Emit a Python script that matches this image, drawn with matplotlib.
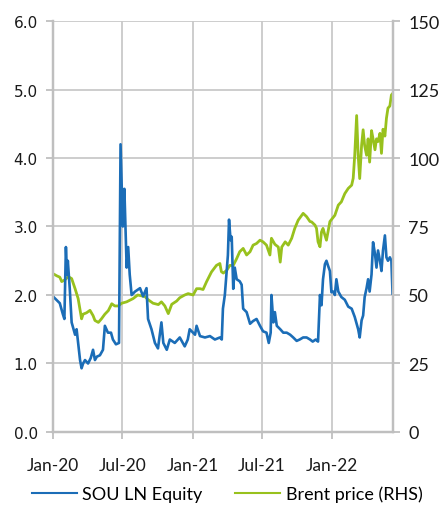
import matplotlib
matplotlib.use("Agg")
import matplotlib.pyplot as plt
import pandas as pd
from matplotlib.lines import Line2D

sou_dates = ["2020-01-01","2020-01-19","2020-01-27","2020-01-31","2020-02-04","2020-02-07","2020-02-09","2020-02-14",
 "2020-02-19","2020-02-24","2020-02-28","2020-03-03","2020-03-07","2020-03-12","2020-03-16","2020-03-20","2020-03-25",
 "2020-04-02","2020-04-09","2020-04-15","2020-04-20","2020-04-25","2020-05-03","2020-05-11","2020-05-16","2020-05-24",
 "2020-06-01","2020-06-06","2020-06-14","2020-06-22","2020-06-26","2020-06-30","2020-07-02","2020-07-06","2020-07-12",
 "2020-07-16","2020-07-20","2020-07-25","2020-08-03","2020-08-16","2020-08-24","2020-09-02","2020-09-06","2020-09-15",
 "2020-09-24","2020-10-02","2020-10-11","2020-10-16","2020-10-25","2020-11-02","2020-11-15","2020-11-28","2020-12-11",
 "2020-12-19","2020-12-24","2021-01-07","2021-01-11","2021-01-20","2021-02-02","2021-02-15","2021-02-28","2021-03-13",
 "2021-03-18","2021-03-21","2021-03-26","2021-03-31","2021-04-03","2021-04-06","2021-04-10","2021-04-13","2021-04-17",
 "2021-04-21","2021-04-26","2021-05-04","2021-05-09","2021-05-13","2021-05-22","2021-05-31","2021-06-08","2021-06-17",
 "2021-06-26","2021-07-04","2021-07-13","2021-07-19","2021-07-24","2021-07-26","2021-07-31","2021-08-04","2021-08-09",
 "2021-08-18","2021-08-26","2021-09-04","2021-09-13","2021-09-21","2021-09-30","2021-10-08","2021-10-17","2021-10-26",
 "2021-11-04","2021-11-11","2021-11-19","2021-11-25","2021-11-30","2021-12-04","2021-12-08","2021-12-13","2021-12-17",
 "2021-12-21","2021-12-26","2021-12-30","2022-01-04","2022-01-08","2022-01-12","2022-01-17","2022-01-25","2022-02-03",
 "2022-02-12","2022-02-21","2022-03-01","2022-03-10","2022-03-14","2022-03-19","2022-03-23","2022-03-27","2022-04-01",
 "2022-04-05","2022-04-09","2022-04-14","2022-04-18","2022-04-23","2022-04-27","2022-05-01","2022-05-06","2022-05-10",
 "2022-05-14","2022-05-19","2022-05-23","2022-05-27","2022-06-01","2022-06-05","2022-06-08"]
sou_values = [1.98,1.88,1.72,1.65,2.7,2.3,2.5,2.1,
 1.6,1.5,1.42,1.5,1.3,1.05,0.93,1.0,1.05,
 1.0,1.08,1.2,1.05,1.1,1.12,1.2,1.55,1.45,
 1.45,1.35,1.28,1.3,4.2,3.4,3.0,3.55,2.4,
 2.7,2.3,2.0,2.05,2.1,1.98,2.1,1.65,1.5,
 1.3,1.22,1.6,1.3,1.2,1.35,1.3,1.38,1.25,
 1.35,1.5,1.42,1.55,1.4,1.38,1.4,1.35,1.38,
 1.35,1.8,2.0,2.35,2.58,3.1,2.8,2.85,2.09,
 2.4,2.23,2.2,2.15,1.8,1.75,1.58,1.62,1.65,
 1.55,1.47,1.45,1.3,1.45,2.0,1.6,1.75,1.55,
 1.5,1.45,1.45,1.42,1.38,1.33,1.35,1.38,1.38,
 1.35,1.32,1.35,1.32,2.0,1.85,2.23,2.45,2.5,
 2.43,2.35,2.04,2.05,2.0,2.23,2.05,1.97,1.93,
 1.83,1.8,1.68,1.5,1.38,1.63,1.7,1.97,2.1,
 2.23,2.05,2.3,2.77,2.6,2.4,2.65,2.5,2.35,
 2.65,2.87,2.55,2.5,2.55,2.5,2.02]

brent_dates = ["2020-01-01","2020-01-11","2020-01-19","2020-01-24","2020-02-01","2020-02-10","2020-02-19","2020-02-28",
 "2020-03-07","2020-03-16","2020-03-20","2020-03-29","2020-04-07","2020-04-15","2020-04-20","2020-04-29","2020-05-07",
 "2020-05-16","2020-05-25","2020-06-03","2020-06-11","2020-06-20","2020-06-29","2020-07-12","2020-07-29","2020-08-10",
 "2020-08-29","2020-09-06","2020-09-19","2020-10-03","2020-10-11","2020-10-20","2020-10-29","2020-11-07","2020-11-20",
 "2020-11-28","2020-12-11","2020-12-20","2021-01-02","2021-01-11","2021-01-20","2021-01-28","2021-02-06","2021-02-19",
 "2021-03-04","2021-03-13","2021-03-17","2021-03-22","2021-03-31","2021-04-08","2021-04-17","2021-04-26","2021-05-04",
 "2021-05-13","2021-05-22","2021-05-31","2021-06-08","2021-06-17","2021-06-26","2021-07-04","2021-07-13","2021-07-22",
 "2021-07-26","2021-08-04","2021-08-13","2021-08-18","2021-08-22","2021-08-31","2021-09-08","2021-09-17","2021-09-25",
 "2021-10-04","2021-10-17","2021-10-26","2021-11-04","2021-11-08","2021-11-17","2021-11-21","2021-11-25","2021-11-30",
 "2021-12-04","2021-12-08","2021-12-13","2021-12-17","2021-12-21","2021-12-26","2022-01-08","2022-01-17","2022-01-25",
 "2022-02-03","2022-02-12","2022-02-21","2022-02-25","2022-03-01","2022-03-06","2022-03-10","2022-03-14","2022-03-19",
 "2022-03-23","2022-03-27","2022-04-01","2022-04-05","2022-04-09","2022-04-14","2022-04-18","2022-04-23","2022-04-27",
 "2022-05-01","2022-05-06","2022-05-10","2022-05-14","2022-05-19","2022-05-23","2022-05-27","2022-06-01","2022-06-05",
 "2022-06-08"]
brent_values = [57.8,57.0,56.5,54.9,55.5,56.7,56.0,52.3,
 48.7,41.3,43.0,43.5,44.4,42.5,40.7,40.0,41.3,
 43.0,44.3,46.8,46.0,46.0,47.0,47.5,48.7,50.0,
 49.4,48.3,47.0,46.5,47.5,46.0,43.2,46.6,47.8,
 49.0,50.0,50.5,50.0,52.3,52.3,52.0,54.8,58.4,
 60.8,61.5,58.5,58.0,59.0,60.8,60.8,63.3,65.8,
 67.0,64.6,65.8,68.2,68.8,70.0,69.4,68.2,64.6,
 70.7,68.5,67.5,62.0,67.5,69.4,68.2,70.7,74.3,
 77.3,79.8,78.6,76.8,76.7,75.5,74.3,69.4,67.6,
 73.0,74.3,71.8,70.0,73.0,76.8,79.1,82.8,84.0,
 87.0,88.9,90.1,92.6,101.0,115.5,101.0,92.5,104.7,
 110.3,104.5,101.0,107.0,98.5,110.0,107.0,103.0,107.0,
 106.0,109.0,101.7,110.5,108.0,114.5,118.2,119.0,123.0,
 123.5]

left_ticks = [0, 1, 2, 3, 4, 5, 6]
right_ticks = [0, 25, 50, 75, 100, 125, 150]
x_ticks = ["2020-01-01", "2020-07-01", "2021-01-01", "2021-07-01", "2022-01-01"]
x_ticklabels = ["Jan-20", "Jul-20", "Jan-21", "Jul-21", "Jan-22"]

BLUE = "#1b6db7"
GREEN = "#98c11d"
GRID = "#c9c9c9"
TXT = "#1a1a1a"

fig = plt.figure(figsize=(4.41, 5.06), dpi=100)
ax2 = fig.add_axes([0.120, 0.1443, 0.771, 0.8122])
ax = ax2.twinx()
ax2.yaxis.tick_right()
ax2.yaxis.set_label_position("right")
ax.yaxis.tick_left()
ax.yaxis.set_label_position("left")
ax.set_zorder(ax2.get_zorder() + 1)
ax.patch.set_visible(False)

sd = pd.to_datetime(sou_dates)
bd = pd.to_datetime(brent_dates)
ax2.plot(bd, brent_values, color=GREEN, lw=2.0, solid_joinstyle="round")
ax.plot(sd, sou_values, color=BLUE, lw=1.9, solid_joinstyle="round")

xmin = pd.Timestamp("2020-01-01")
xmax = pd.Timestamp("2022-06-09")
ax.set_xlim(xmin, xmax)
ax2.set_xlim(xmin, xmax)
ax.set_ylim(0, 6)
ax2.set_ylim(0, 150)
ax.set_yticks(left_ticks)
ax.set_yticklabels([f"{v:.1f}" for v in left_ticks])
ax2.set_yticks(right_ticks)
ax2.set_yticklabels([str(v) for v in right_ticks])
xt = pd.to_datetime(x_ticks)
ax2.set_xticks(xt)
ax2.set_xticklabels(x_ticklabels)
ax.set_xticks(xt)
ax.tick_params(axis="x", bottom=False, labelbottom=False)

ax2.grid(True, color=GRID, lw=1.3)
ax2.set_axisbelow(True)

for a in (ax, ax2):
    a.spines["top"].set_visible(False)
    for s in ("left", "right", "bottom"):
        a.spines[s].set_color("#bfbfbf")
        a.spines[s].set_linewidth(1.6)

ax.tick_params(axis="y", colors="#bfbfbf", labelcolor=TXT, length=5, width=1.3, labelsize=11, pad=6)
for lab in ax.get_yticklabels():
    lab.set_family("DejaVu Sans")
ax2.tick_params(axis="y", colors="#bfbfbf", labelcolor=TXT, length=5, width=1.3, labelsize=13, pad=6)
ax2.tick_params(axis="x", colors="#bfbfbf", labelcolor=TXT, length=5, width=1.3, labelsize=12.5, pad=13)
for lab in ax2.get_yticklabels() + ax2.get_xticklabels():
    lab.set_family("Lato")

handles = [Line2D([], [], color=BLUE, lw=1.5), Line2D([], [], color=GREEN, lw=1.5)]
fig.legend(handles, ["SOU LN Equity", "Brent price (RHS)"], loc="center",
           bbox_to_anchor=(0.515, 0.022), ncol=2, frameon=False,
           prop={"family": "Lato", "size": 13}, handlelength=2.5,
           columnspacing=1.8, handletextpad=0.3, borderpad=0.0)

fig.savefig("out.png", dpi=100)
